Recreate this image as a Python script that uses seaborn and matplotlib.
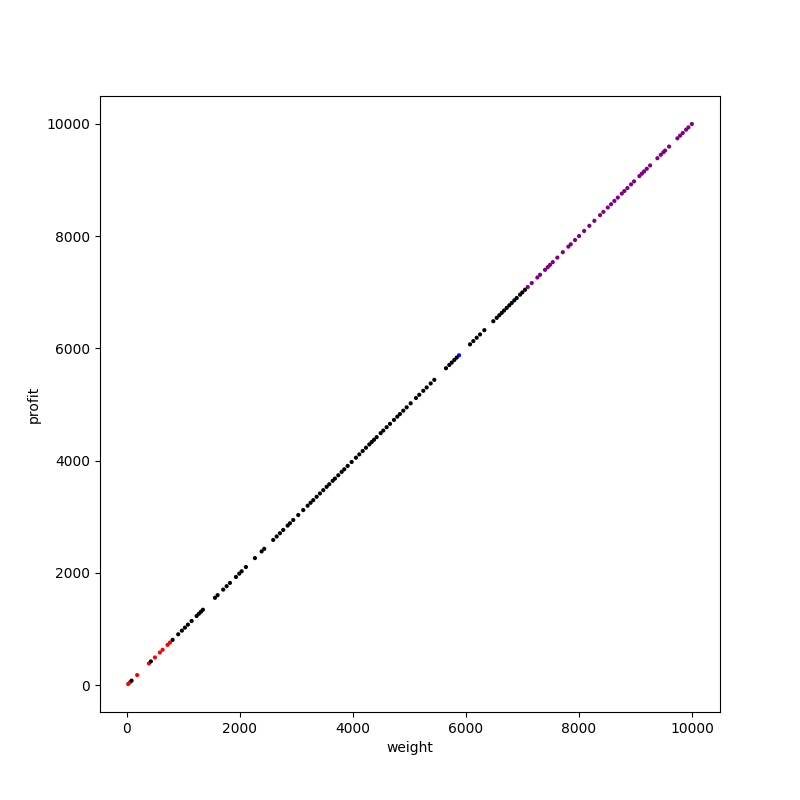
import pandas as pd
import matplotlib
matplotlib.use("Agg")
import matplotlib.pyplot as plt
import seaborn as sns

# weight values per group (profit lies on y = x)
red_weight = [23, 53, 182, 389, 496, 584, 632, 720, 761]
black_weight = [83, 425, 809, 908, 973, 1027, 1080, 1145, 1234, 1274, 1310, 1345,
                1558, 1605, 1704, 1765, 1823, 1929, 1988, 2030, 2106, 2265, 2384,
                2430, 2589, 2650, 2708, 2766, 2844, 2885, 2943, 3032, 3120, 3198,
                3250, 3297, 3357, 3416, 3475, 3534, 3580, 3641, 3681, 3740, 3800,
                3846, 3906, 3977, 4053, 4112, 4172, 4230, 4289, 4331, 4372, 4419,
                4490, 4536, 4596, 4655, 4726, 4784, 4830, 4890, 4950, 5021, 5115,
                5173, 5244, 5304, 5375, 5439, 5646, 5704, 5747, 5793, 5835, 6071,
                6129, 6189, 6248, 6324, 6483, 6543, 6589, 6632, 6673, 6720, 6766,
                6809, 6855, 6897, 6956, 6996, 7044]
blue_weight = [5876]
purple_weight = [7092, 7163, 7262, 7310, 7398, 7446, 7487, 7535, 7616, 7712, 7811,
                 7853, 7929, 8000, 8090, 8182, 8271, 8372, 8430, 8508, 8566, 8625,
                 8685, 8756, 8802, 8855, 8920, 8973, 9067, 9110, 9150, 9198, 9257,
                 9386, 9446, 9492, 9522, 9593, 9740, 9788, 9835, 9894, 9935, 9995]

groups = {"red": red_weight, "black": black_weight,
          "blue": blue_weight, "purple": purple_weight}

rows = []
for color, weights in groups.items():
    for w in weights:
        rows.append({"weight": w, "profit": w, "group": color})
df = pd.DataFrame(rows)

fig = plt.figure(figsize=(8, 8), dpi=100)
ax = sns.scatterplot(data=df, x="weight", y="profit", hue="group",
                     palette={"red": "red", "black": "black",
                              "blue": "blue", "purple": "purple"},
                     s=9, linewidth=0, legend=False)
ax.set_xlabel("weight")
ax.set_ylabel("profit")
plt.savefig("out.png", dpi=100)
plt.close()
